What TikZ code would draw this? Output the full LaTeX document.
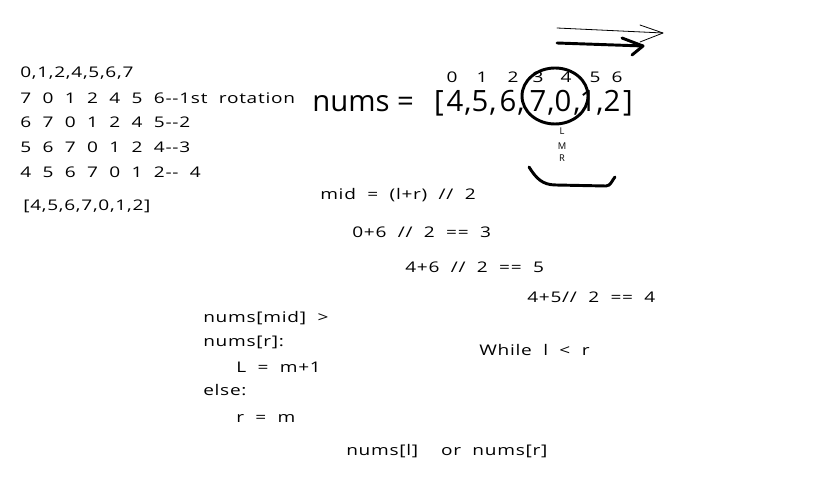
\documentclass[tikz,border=0pt]{standalone}
\usepackage{fontspec}
\setmainfont{Open Sans}
\newfontfamily\handfont[FakeStretch=1.3, LetterSpace=5, WordSpace=2]{Open Sans}
\usetikzlibrary{positioning}

\tikzset{
  hand/.style={anchor=west, inner sep=0pt, font=\handfont\fontsize{11}{13}\selectfont},
  big/.style={anchor=base west, inner sep=0pt, font=\fontsize{22}{26}\selectfont},
  cell/.style={anchor=base, inner sep=0pt, font=\fontsize{22}{26}\selectfont},
  tiny/.style={inner sep=0pt, font=\handfont\fontsize{11}{13}\selectfont},
  pen/.style={line width=2.2pt, line cap=round, line join=round},
}

\begin{document}
\begin{tikzpicture}[x=0.75pt, y=-0.75pt]
  \useasboundingbox (0,0) rectangle (816,477);

  % rotations on the left
  \node[hand] (r0) at (20,73) {0,1,2,4,5,6,7};
  \node[hand] (r1) at (20,98) {7 0 1 2 4 5 6-{}-1st rotation};
  \node[hand] (r2) at (20,122) {6 7 0 1 2 4 5-{}-2};
  \node[hand] (r3) at (20,147) {5 6 7 0 1 2 4-{}-3};
  \node[hand] (r4) at (20,172) {4 5 6 7 0 1 2-{}- 4};
  \node[hand] (arr) at (23,206) {[4,5,6,7,0,1,2]};

  % the array and its indices
  \node[big] (nums) at (312,112) {nums =};
  \node[cell] (lb) at (439,112) {[};
  \node[cell] (rb) at (628,112) {]};
  \foreach \d/\x [count=\k] in {4/455,5/480,6/508,7/538,0/563,1/588,2/612}
    \node[cell] (el\k) at (\x,112) {\d};
  \foreach \x [count=\k] in {468,493,521,551,577,600}
    \node[cell] (cm\k) at (\x,112) {,};
  \foreach \i/\x in {0/452,1/482,2/513,3/538,4/566,5/595,6/617}
    \node[tiny] (idx\i) at (\x,77) {\i};

  \draw[pen] (555,96) ellipse [x radius=33, y radius=28];
  \node[inner sep=0pt, font=\fontsize{7}{8}\selectfont] (lo) at (562,131) {L};
  \node[inner sep=0pt, font=\fontsize{7}{8}\selectfont] (mi) at (562,146) {M};
  \node[inner sep=0pt, font=\fontsize{7}{8}\selectfont] (hi) at (562,158) {R};
  \draw[pen] (529,167) .. controls (536,178) and (542,185) .. (556,185)
    -- (606,186) .. controls (611,186) and (612,180) .. (615,177);

  % direction arrows
  \draw[line width=0.6pt, line cap=round] (557,28) -- (663,33);
  \draw[line width=0.6pt, line cap=round, line join=round] (640,25) -- (663,33) -- (640,42);
  \draw[pen] (557,43) -- (643,46);
  \draw[pen] (622,38) -- (643,46) -- (632,55);

  % mid computations
  \node[hand] (mid) at (320,195) {mid = (l+r) // 2};
  \node[hand] (s1) at (352,232) {0+6 // 2 == 3};
  \node[hand] (s2) at (405,267) {4+6 // 2 == 5};
  \node[hand] (s3) at (527,297) {4+5// 2 == 4};

  % loop body
  \node[hand] (c1) at (203,318) {nums[mid] >};
  \node[hand] (c2) at (203,342) {nums[r]:};
  \node[hand] (c3) at (236,367) {L = m+1};
  \node[hand] (c4) at (203,390) {else:};
  \node[hand] (c5) at (236,418) {r = m};
  \node[hand] (loop) at (479,350) {While l < r};
  \node[hand] (res) at (346,451) {nums[l]\ \ or nums[r]};
\end{tikzpicture}
\end{document}
